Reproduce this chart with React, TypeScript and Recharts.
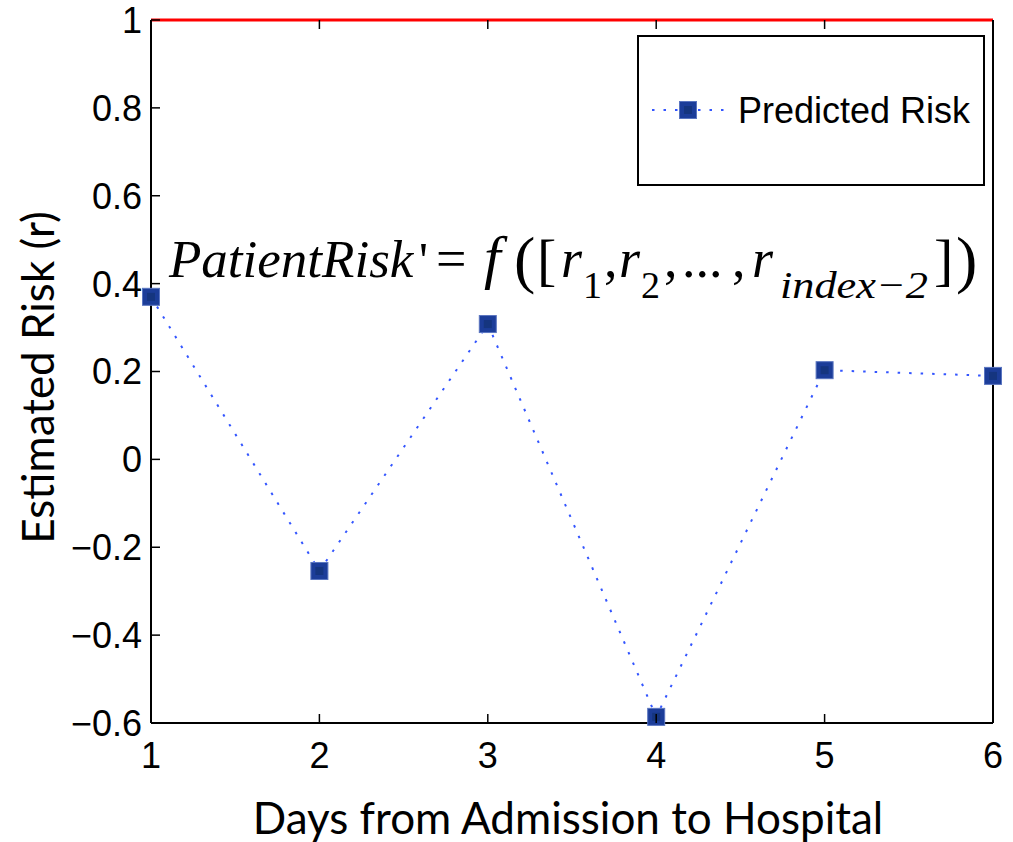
import { LineChart, Line, XAxis, YAxis, ReferenceLine, Legend, Customized } from 'recharts';

const days = [1, 2, 3, 4, 5, 6];
const predictedRisk = [0.37, -0.254, 0.308, -0.586, 0.203, 0.19];
const xTicks = [1, 2, 3, 4, 5, 6];
const yTicks = [-0.6, -0.4, -0.2, 0, 0.2, 0.4, 0.6, 0.8, 1];

const data = days.map((d, i) => ({ day: d, risk: predictedRisk[i] }));

const TICK_FONT = '"Liberation Sans", Arial, Helvetica, sans-serif';
const LABEL_FONT = 'Lato, "Open Sans", sans-serif';
const SERIF = '"Liberation Serif", "Times New Roman", serif';
const LINE_BLUE = '#3355ff';

const fmt = (v: number) => (v < 0 ? '\u2212' + String(-v) : String(v));

const LeftTick = ({ x, y, payload }: any) => (
  <g>
    <line x1={x} x2={x + 9} y1={y} y2={y} stroke="#000" strokeWidth={1.5} />
    <text x={x - 9} y={y} dy="0.36em" textAnchor="end" fontFamily={TICK_FONT} fontSize={36} fill="#000">
      {fmt(payload.value)}
    </text>
  </g>
);

const RightTick = ({ x, y }: any) => <line x1={x} x2={x - 9} y1={y} y2={y} stroke="#000" strokeWidth={1.5} />;

const BottomTick = ({ x, y, payload }: any) => (
  <g>
    <line x1={x} x2={x} y1={y} y2={y - 9} stroke="#000" strokeWidth={1.5} />
    <text x={x} y={y + 45} textAnchor="middle" fontFamily={TICK_FONT} fontSize={36} fill="#000">
      {payload.value}
    </text>
  </g>
);

const TopTick = ({ x, y }: any) => <line x1={x} x2={x} y1={y} y2={y + 9} stroke="#000" strokeWidth={1.5} />;

const SquareDot = ({ cx, cy }: any) => {
  if (cx == null || cy == null) return null;
  return (
    <g>
      <rect x={cx - 8.5} y={cy - 8.5} width={17} height={17} fill="#1c3d99" stroke="#5a75c0" strokeWidth={1} />
      <rect x={cx - 4} y={cy - 4} width={8} height={8} fill="#15357f" />
    </g>
  );
};

const renderLegend = () => (
  <svg width={348} height={151} style={{ display: 'block' }}>
    <rect x={1} y={1} width={346} height={149} fill="#fff" stroke="#000" strokeWidth={2} />
    <line x1={15} x2={87} y1={75} y2={75} stroke={LINE_BLUE} strokeWidth={2} strokeDasharray="2.5 9" />
    <SquareDot cx={51} cy={75} />
    <text x={101} y={75} dy="0.36em" fontFamily={TICK_FONT} fontSize={36} fill="#000">
      Predicted Risk
    </text>
  </svg>
);

// formula overlay, pieces placed one by one
const Formula = () => {
  const base = 277;
  const sub = base + 21;
  return (
    <g fontFamily={SERIF} fill="#000">
      <text x={169} y={base} fontSize={53} fontStyle="italic">PatientRisk</text>
      <text x={419} y={base} fontSize={50}>'</text>
      <text x={436} y={base} fontSize={54}>=</text>
      <text x={484} y={base} fontSize={60} fontStyle="italic">f</text>
      <text x={514} y={base + 4} fontSize={64}>(</text>
      <text x={537} y={base + 2} fontSize={58}>[</text>
      <text x={561} y={base} fontSize={54} fontStyle="italic">r</text>
      <text x={583} y={sub} fontSize={38}>1</text>
      <text x={604} y={base} fontSize={54}>,</text>
      <text x={619} y={base} fontSize={54} fontStyle="italic">r</text>
      <text x={641} y={sub} fontSize={38}>2</text>
      <text x={664} y={base} fontSize={54}>,</text>
      <text x={682} y={base} fontSize={54}>...</text>
      <text x={732} y={base} fontSize={54}>,</text>
      <text x={752} y={base} fontSize={54} fontStyle="italic">r</text>
      <text x={780} y={sub} fontSize={38} fontStyle="italic" textLength={148} lengthAdjust="spacingAndGlyphs">
        {'index\u22122'}
      </text>
      <text x={934} y={base + 2} fontSize={58}>]</text>
      <text x={956} y={base + 4} fontSize={64}>)</text>
    </g>
  );
};

export default function App() {
  return (
    <div style={{ position: 'absolute', left: 0, top: 0, background: '#fff' }}>
      <LineChart width={1013} height={842} data={data} margin={{ top: 0, right: 0, bottom: 0, left: 0 }}>
        <XAxis
          xAxisId="bottom"
          dataKey="day"
          type="number"
          domain={[1, 6]}
          ticks={xTicks}
          height={119}
          axisLine={{ stroke: '#000', strokeWidth: 2 }}
          tickLine={false}
          tickSize={0}
          tickMargin={0}
          tick={<BottomTick />}
          interval={0}
          label={({ viewBox }: any) => (
            <text
              x={viewBox.x + viewBox.width / 2 - 4}
              y={viewBox.y + 111}
              textAnchor="middle"
              fontFamily={LABEL_FONT}
              fontSize={44}
              fill="#000"
            >
              Days from Admission to Hospital
            </text>
          )}
        />
        <XAxis
          xAxisId="top"
          orientation="top"
          dataKey="day"
          type="number"
          domain={[1, 6]}
          ticks={xTicks}
          height={20}
          axisLine={false}
          tickLine={false}
          tickSize={0}
          tickMargin={0}
          tick={<TopTick />}
          interval={0}
        />
        <YAxis
          yAxisId="left"
          type="number"
          domain={[-0.6, 1]}
          ticks={yTicks}
          width={151}
          axisLine={{ stroke: '#000', strokeWidth: 2 }}
          tickLine={false}
          tickSize={0}
          tickMargin={0}
          tick={<LeftTick />}
          interval={0}
          label={({ viewBox }: any) => {
            const cx = 38;
            const cy = viewBox.y + viewBox.height / 2 + 6;
            return (
              <text
                x={cx}
                y={cy}
                dy="0.36em"
                textAnchor="middle"
                transform={`rotate(-90, ${cx}, ${cy})`}
                fontFamily={LABEL_FONT}
                fontSize={44}
                fill="#000"
              >
                Estimated Risk (r)
              </text>
            );
          }}
        />
        <YAxis
          yAxisId="right"
          orientation="right"
          type="number"
          domain={[-0.6, 1]}
          ticks={yTicks}
          width={20}
          axisLine={{ stroke: '#000', strokeWidth: 2 }}
          tickLine={false}
          tickSize={0}
          tickMargin={0}
          tick={<RightTick />}
          interval={0}
        />
        <ReferenceLine xAxisId="bottom" yAxisId="left" y={1} stroke="#ff0000" strokeWidth={3} />
        <Line
          xAxisId="bottom"
          yAxisId="left"
          dataKey="risk"
          name="Predicted Risk"
          stroke={LINE_BLUE}
          strokeWidth={2}
          strokeDasharray="2.5 9"
          dot={<SquareDot />}
          activeDot={false}
          isAnimationActive={false}
        />
        <Customized component={Formula} />
        <Legend
          layout="horizontal"
          verticalAlign="middle"
          align="center"
          content={renderLegend}
          wrapperStyle={{ position: 'absolute', left: 637, top: 35, width: 348, height: 151 }}
        />
      </LineChart>
    </div>
  );
}
